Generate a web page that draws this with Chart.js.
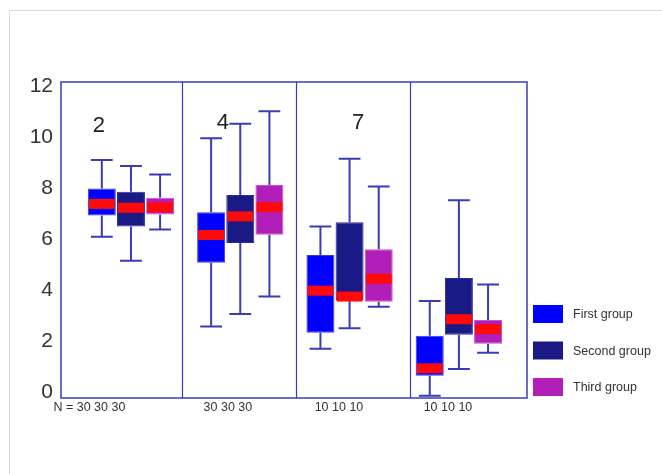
<!DOCTYPE html>
<html><head><meta charset="utf-8">
<script src="https://cdn.jsdelivr.net/npm/chart.js@4"></script>
<style>
html,body{margin:0;padding:0;background:#fff;}
#wrap{position:relative;width:662px;height:474px;overflow:hidden;}
#frame{position:absolute;left:9px;top:10px;width:700px;height:500px;border-top:1px solid #dcdcdc;border-left:1px solid #dcdcdc;}
#c{position:absolute;left:0;top:0;}
</style></head><body>
<div id="wrap"><div id="frame"></div><canvas id="c" width="662" height="474"></canvas></div>
<script>
// ---- data ----
const groupLabels = ['2', '4', '7', ''];
const nLabels = ['N = 30 30 30', '30 30 30', '10 10 10', '10 10 10'];
const seriesNames = ['First group', 'Second group', 'Third group'];
const yTicks = [0, 2, 4, 6, 8, 10, 12];

const firstMin    = [6.10, 2.57, 1.70, -0.15];
const firstQ1     = [6.93, 5.08, 2.33, 0.64];
const firstMedian = [7.39, 6.17, 3.98, 0.93];
const firstQ3     = [8.00, 7.06, 5.38, 2.21];
const firstMax    = [9.12, 9.97, 6.50, 3.58];

const secondMin    = [5.16, 3.06, 2.50, 0.90];
const secondQ1     = [6.50, 5.85, 3.61, 2.25];
const secondMedian = [7.24, 6.90, 3.75, 2.86];
const secondQ3     = [7.87, 7.74, 6.67, 4.48];
const secondMax    = [8.88, 10.54, 9.16, 7.53];

const thirdMin    = [6.38, 3.75, 3.35, 1.54];
const thirdQ1     = [6.97, 6.18, 3.55, 1.90];
const thirdMedian = [7.26, 7.26, 4.45, 2.47];
const thirdQ3     = [7.63, 8.13, 5.61, 2.83];
const thirdMax    = [8.55, 11.03, 8.07, 4.22];

// ---- layout / style ----
const FONT = "'Liberation Sans', Arial, Helvetica, sans-serif";
const X_MIN = 0.36, X_MAX = 4.623;
const dividerAt = [1.467, 2.510, 3.553];
const nLabelAt = [0.62, 1.887, 2.903, 3.90];
const groupLabelAt = [[0.707, 10.45], [1.84, 10.56], [3.077, 10.56]];
const colors = ['#0000ff', '#1a1a86', '#b21eb8'];
const borders = ['#3a3ae0', '#2a2aa0', '#c850d0'];
const lineBlue = '#3b3bb6';
const medianRed = '#ff0a0a';

const stats = [
  {min: firstMin, q1: firstQ1, med: firstMedian, q3: firstQ3, max: firstMax},
  {min: secondMin, q1: secondQ1, med: secondMedian, q3: secondQ3, max: secondMax},
  {min: thirdMin, q1: thirdQ1, med: thirdMedian, q3: thirdQ3, max: thirdMax}
];

const datasets = stats.map((s, k) => ({
  label: seriesNames[k],
  data: s.q1.map((v, i) => ({x: i + 1, y: [v, s.q3[i]]})),
  backgroundColor: colors[k],
  borderColor: borders[k],
  borderWidth: 1,
  borderSkipped: false,
  categoryPercentage: 0.8,
  barPercentage: 0.96,
  xAxisID: 'x',
  yAxisID: 'y'
}));

const decor = {
  id: 'decor',
  beforeDatasetsDraw(chart) {
    const ctx = chart.ctx, a = chart.chartArea;
    const xs = chart.scales.x, ys = chart.scales.y;
    ctx.save();
    // frame
    ctx.strokeStyle = lineBlue; ctx.lineWidth = 1.5;
    ctx.strokeRect(a.left, a.top, a.right - a.left, a.bottom - a.top);
    ctx.lineWidth = 1.2;
    dividerAt.forEach(v => {
      const px = Math.round(xs.getPixelForValue(v)) + 0.5;
      ctx.beginPath(); ctx.moveTo(px, a.top); ctx.lineTo(px, a.bottom); ctx.stroke();
    });
    // whiskers
    ctx.lineWidth = 2;
    ctx.strokeStyle = lineBlue;
    chart.data.datasets.forEach((ds, di) => {
      const meta = chart.getDatasetMeta(di);
      const s = stats[di];
      meta.data.forEach((bar, i) => {
        const x = bar.x, cap = bar.width * 0.78;
        const yMax = ys.getPixelForValue(s.max[i]), yQ3 = ys.getPixelForValue(s.q3[i]);
        const yMin = ys.getPixelForValue(s.min[i]), yQ1 = ys.getPixelForValue(s.q1[i]);
        ctx.beginPath();
        ctx.moveTo(x, yMax); ctx.lineTo(x, yQ3);
        ctx.moveTo(x, yQ1); ctx.lineTo(x, yMin);
        ctx.moveTo(x - cap / 2, yMax); ctx.lineTo(x + cap / 2, yMax);
        ctx.moveTo(x - cap / 2, yMin); ctx.lineTo(x + cap / 2, yMin);
        ctx.stroke();
      });
    });
    ctx.restore();
  },
  afterDatasetsDraw(chart) {
    const ctx = chart.ctx;
    const xs = chart.scales.x, ys = chart.scales.y;
    ctx.save();
    chart.data.datasets.forEach((ds, di) => {
      const meta = chart.getDatasetMeta(di);
      const s = stats[di];
      meta.data.forEach((bar, i) => {
        const ym = ys.getPixelForValue(s.med[i]);
        ctx.fillStyle = medianRed;
        ctx.fillRect(bar.x - bar.width / 2 + 1, ym - 5, bar.width - 2, 10);
      });
    });
    // group labels
    ctx.fillStyle = '#222';
    ctx.font = '22px ' + FONT;
    ctx.textAlign = 'center'; ctx.textBaseline = 'middle';
    groupLabelAt.forEach((p, i) => {
      ctx.fillText(groupLabels[i], xs.getPixelForValue(p[0]), ys.getPixelForValue(p[1]));
    });
    // legend
    ctx.font = '12.5px ' + FONT;
    ctx.textAlign = 'left';
    chart.data.datasets.forEach((ds, di) => {
      const cy = 314 + di * 36.5;
      ctx.fillStyle = ds.backgroundColor;
      ctx.fillRect(533, cy - 9, 30, 18);
      ctx.fillStyle = '#333';
      ctx.fillText(ds.label, 573, cy + 1);
    });
    ctx.restore();
  }
};

new Chart(document.getElementById('c'), {
  type: 'bar',
  data: {datasets},
  options: {
    responsive: false,
    animation: false,
    devicePixelRatio: 1,
    layout: {padding: {top: 82, right: 135, left: 0, bottom: 0}},
    plugins: {legend: {display: false}, tooltip: {enabled: false}},
    scales: {
      x: {
        type: 'linear', display: false, offset: false, min: X_MIN, max: X_MAX,
        afterBuildTicks: s => { s.ticks = nLabels.map((_, i) => ({value: i + 1})); }
      },
      x2: {
        type: 'linear', position: 'bottom', offset: false, min: X_MIN, max: X_MAX,
        grid: {display: false, drawTicks: false, tickLength: 0}, border: {display: false},
        afterBuildTicks: s => { s.ticks = nLabelAt.map(v => ({value: v})); },
        afterFit: s => { s.height = 76; },
        ticks: {
          padding: 2, maxRotation: 0, autoSkip: false,
          color: '#333', font: {family: FONT, size: 12.5},
          callback: (v, i) => nLabels[i]
        }
      },
      y: {
        type: 'linear', min: -0.236, max: 12.18,
        grid: {display: false, drawTicks: false, tickLength: 0}, border: {display: false},
        afterBuildTicks: s => { s.ticks = yTicks.map(v => ({value: v})); },
        afterFit: s => { s.width = 61; },
        ticks: {padding: 8, color: '#333', font: {family: FONT, size: 21}}
      }
    }
  },
  plugins: [decor]
});
</script>
</body></html>
